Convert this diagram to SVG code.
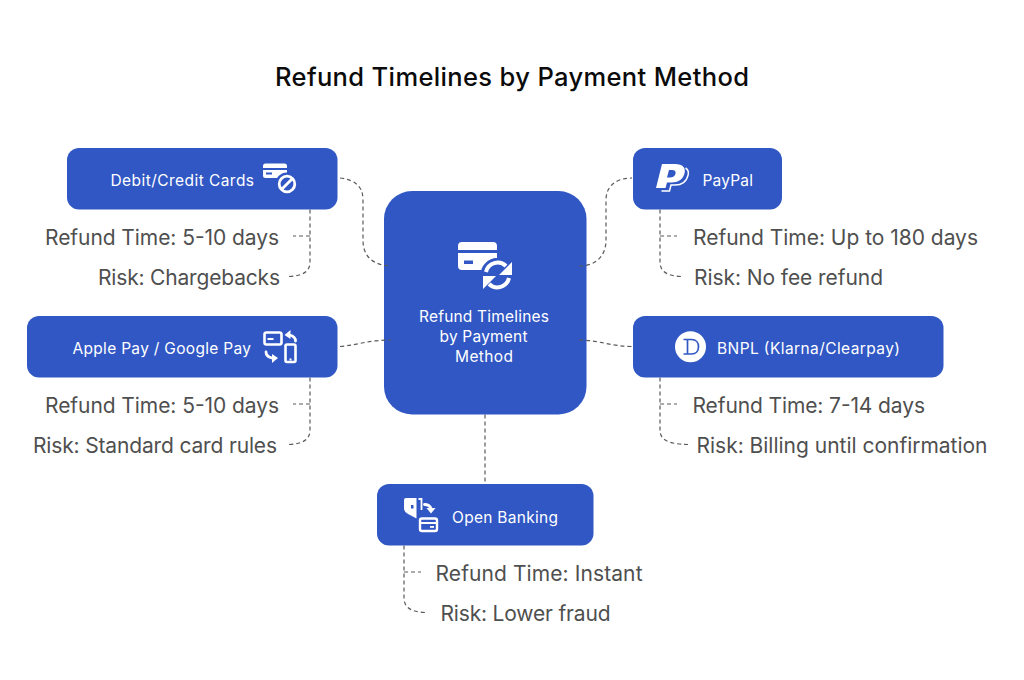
<svg xmlns="http://www.w3.org/2000/svg" width="1024" height="680" viewBox="0 0 1024 680">
<style>
text{font-family:Inter,"Noto Sans","Liberation Sans",sans-serif}
.title{font-size:25.5px;font-weight:500;fill:#0b0b0b}
.n{font-size:15.5px;fill:#fff}
.l{font-size:21px;fill:#4f4f4f}
.box{fill:#3057c4}
.c{fill:none;stroke:#5a5a5a;stroke-width:1.2;stroke-dasharray:4 3}
.w{fill:#fff}
.b{fill:#3057c4}
.s{fill:none;stroke:#fff;stroke-width:2.800;stroke-linecap:round;stroke-linejoin:round}
</style>
<rect width="1024" height="680" fill="#fff"/>
<text class="title" x="275" y="86" textLength="474">Refund Timelines by Payment Method</text>

<g id="center">
<rect class="box" x="384" y="191" width="202.500" height="223.500" rx="28"/>
<path class="w" d="M458 250v-4a4 4 0 0 1 4-4h31a4 4 0 0 1 4 4v4zM458 253h39v5a17 17 0 0 0-15 12h-20a4 4 0 0 1-4-4z"/>
<rect class="b" x="464" y="260.500" width="9" height="3.500"/>
<circle class="b" cx="497.500" cy="275" r="17"/>
<path d="M486 272a12 12 0 0 1 20-6M509 278a12 12 0 0 1-20 6" fill="none" stroke="#fff" stroke-width="4"/>
<path class="w" d="M512 262v13h-13zM483 289v-13h13z"/>
<text class="n" x="419" y="321.500" textLength="130">Refund Timelines</text>
<text class="n" x="439.500" y="341.500" textLength="88">by Payment</text>
<text class="n" x="455" y="361.500" textLength="58">Method</text>
</g>

<g id="debit-credit">
<rect class="box" x="67" y="148" width="270.500" height="61.500" rx="12"/>
<text class="n" x="110.500" y="185.500" textLength="143.500">Debit/Credit Cards</text>
<path class="w" d="M263 168v-2a2.500 2.500 0 0 1 2.500-2.500h19a2.500 2.500 0 0 1 2.500 2.500v2zM263 170h24v8h-21.500a2.500 2.500 0 0 1-2.500-2.500z"/>
<rect class="b" x="266" y="172.500" width="6" height="2"/>
<circle class="b" cx="287" cy="184" r="11.500"/>
<circle cx="287" cy="184" r="7.800" fill="none" stroke="#fff" stroke-width="2.800"/>
<path d="M281.500 189.500l11-11" stroke="#fff" stroke-width="2.800"/>
</g>
<g id="debit-time"><text class="l" x="45" y="245" textLength="234">Refund Time: 5-10 days</text></g>
<g id="debit-risk"><text class="l" x="98" y="285" textLength="182">Risk: Chargebacks</text></g>

<g id="wallets">
<rect class="box" x="27" y="316" width="310.500" height="61.500" rx="12"/>
<text class="n" x="72.500" y="353.500" textLength="178.500">Apple Pay / Google Pay</text>
<rect x="264.500" y="332.500" width="17" height="12" rx="2" fill="none" stroke="#fff" stroke-width="2.600"/>
<rect class="w" x="267.500" y="338" width="6" height="2"/>
<rect x="285.500" y="344.500" width="10" height="17.500" rx="1.500" fill="none" stroke="#fff" stroke-width="2.600"/>
<rect class="w" x="289.500" y="358.500" width="2" height="2"/>
<path class="s" d="M295.500 341c0-3-2-5-6-6"/>
<path class="w" d="M284.500 335l6-5v9z"/>
<path class="s" d="M266 352c0 3 2 5 6 6"/>
<path class="w" d="M278 358l-6 5v-9z"/>
</g>
<g id="wallets-time"><text class="l" x="45" y="413" textLength="234">Refund Time: 5-10 days</text></g>
<g id="wallets-risk"><text class="l" x="33" y="453" textLength="244">Risk: Standard card rules</text></g>

<g id="paypal">
<rect class="box" x="633" y="148" width="149" height="61.500" rx="12"/>
<path class="w" d="M662 164h13c8 0 11 4 9.500 9.500-1.500 6-6.500 9-13 9h-4.500l-1.500 5.500h-9.500zM669 170l-2 7.500h3c3 0 5-1.500 5.500-3.700s-.5-3.800-3.500-3.800z"/>
<path d="M685.500 168c2.500 1.500 3.500 4 2.500 7.500-1.500 6-6.500 9.500-13 9.500h-4l-1.500 6h-8" fill="none" stroke="#fff" stroke-width="1.500"/>
<text class="n" x="702.500" y="185.500" textLength="50.500">PayPal</text>
</g>
<g id="paypal-time"><text class="l" x="693" y="245" textLength="285">Refund Time: Up to 180 days</text></g>
<g id="paypal-risk"><text class="l" x="694" y="285" textLength="189">Risk: No fee refund</text></g>

<g id="bnpl">
<rect class="box" x="633" y="316" width="310.500" height="61.500" rx="12"/>
<circle class="w" cx="690.500" cy="346.700" r="15.500"/>
<path d="M683.500 339.500h8c4.500 0 7 3 7 7.200s-2.500 7.300-7 7.300h-8M687.500 339.500v14.500" fill="none" stroke="#3057c4" stroke-width="1.700"/>
<text class="n" x="717" y="353.500" textLength="183">BNPL (Klarna/Clearpay)</text>
</g>
<g id="bnpl-time"><text class="l" x="692.500" y="413" textLength="232.500">Refund Time: 7-14 days</text></g>
<g id="bnpl-risk"><text class="l" x="696.500" y="453" textLength="291">Risk: Billing until confirmation</text></g>

<g id="open-banking">
<rect class="box" x="377" y="484" width="216.500" height="61.500" rx="12"/>
<path class="w" d="M404 500a2 2 0 0 1 2-2h10.500v20.500l-7.500-4c-3-1.500-5-3.500-5-6z"/>
<rect class="b" x="411" y="505" width="2.500" height="3.500"/>
<path d="M418.500 499h3v11" fill="none" stroke="#fff" stroke-width="1.800"/>
<path class="s" d="M424.500 504.500c3.500 0 5.500 1.500 6.500 4"/>
<path class="w" d="M426.500 508h9l-4.500 5.500z"/>
<rect x="420" y="518.500" width="17" height="12.500" rx="2" fill="none" stroke="#fff" stroke-width="2.400"/>
<rect class="w" x="420" y="522" width="17" height="2"/>
<rect class="w" x="430" y="526" width="4" height="1.800"/>
<text class="n" x="452" y="522.500" textLength="106">Open Banking</text>
</g>
<g id="open-time"><text class="l" x="435.500" y="581" textLength="207">Refund Time: Instant</text></g>
<g id="open-risk"><text class="l" x="440.500" y="621" textLength="170">Risk: Lower fraud</text></g>

<g id="connectors">
<path class="c" d="M340 178C355 180 363 186 363 200V240C363 256 372 265 391 266"/>
<path class="c" d="M340 346.500C358 345 368 340 391 340"/>
<path class="c" d="M579 266C596 266 606 256 606 240V200C606 186 616 178 632 178"/>
<path class="c" d="M579 340C598 340 612 346.500 632 346.500"/>
<path class="c" d="M485 414.500V484"/>
<path class="c" d="M310 209.500V262C310 272 302 276 289 276.500"/>
<path class="c" d="M310 236H293"/>
<path class="c" d="M310 377.500V430C310 440 302 444 289 444.500"/>
<path class="c" d="M310 404H293"/>
<path class="c" d="M660 209.500V262C660 272 668 276 681 276.500"/>
<path class="c" d="M660 236H677"/>
<path class="c" d="M660 377.500V430C660 440 668 444 688 444.500"/>
<path class="c" d="M660 404H677"/>
<path class="c" d="M404 545.500V598C404 608 412 612 425 612.500"/>
<path class="c" d="M404 572H421"/>
</g>
</svg>
